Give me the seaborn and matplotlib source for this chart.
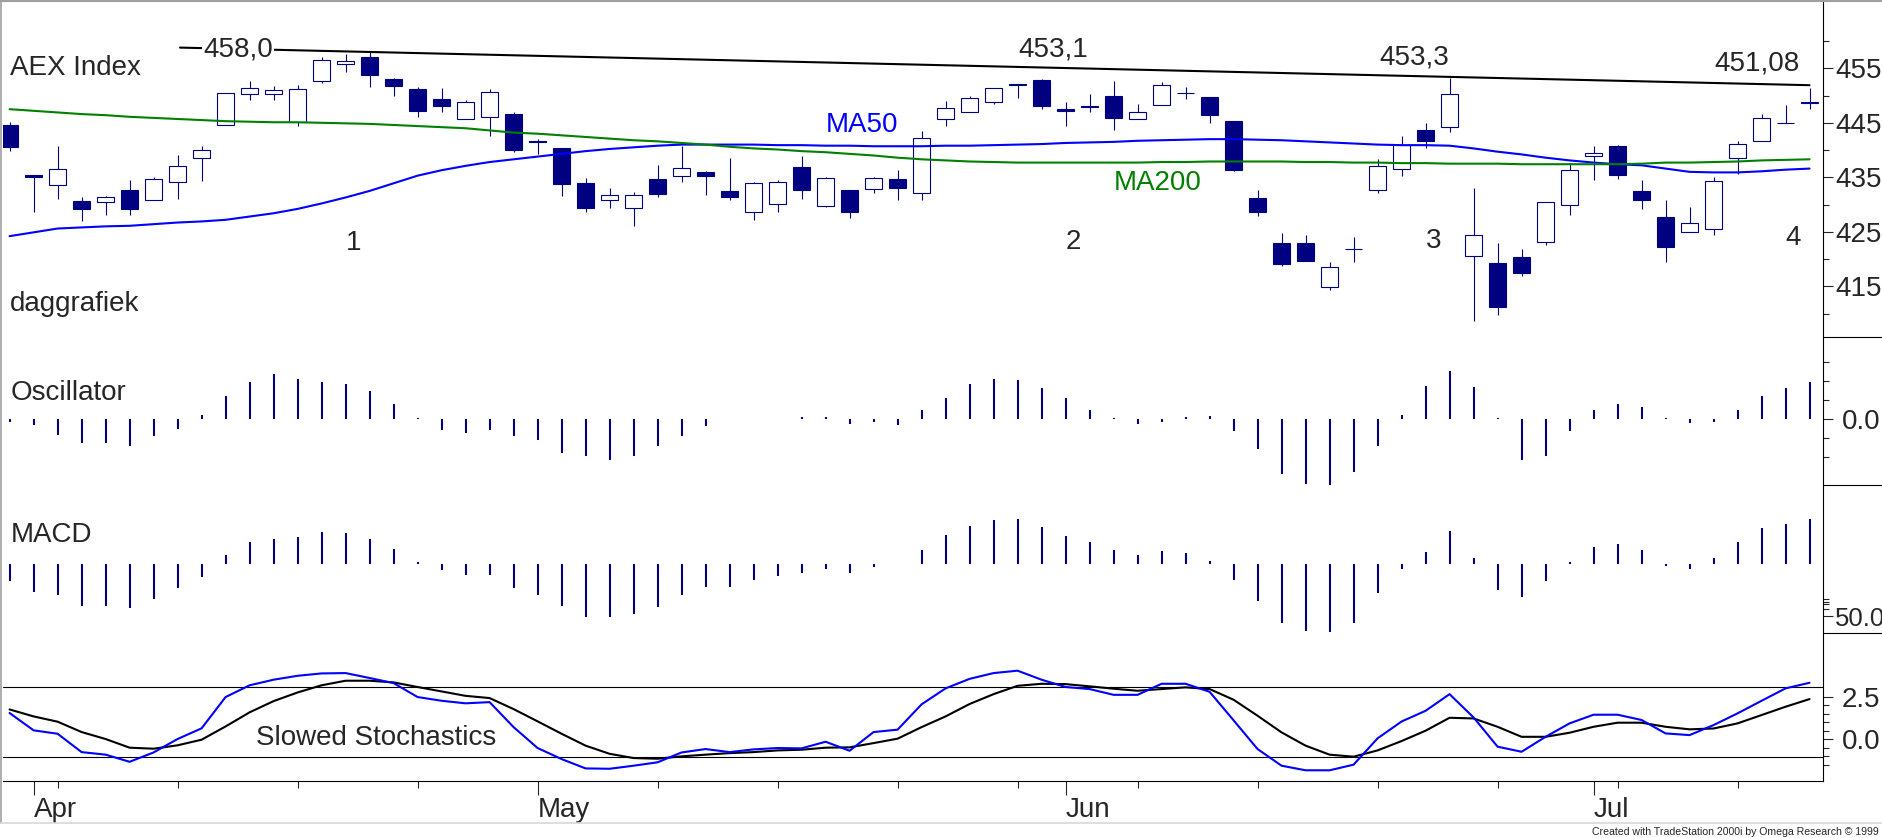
import matplotlib
matplotlib.use("Agg")
import matplotlib.pyplot as plt
from matplotlib.lines import Line2D
import numpy as np
import pandas as pd
import seaborn as sns

# ---- daily AEX bars (index 0 = first trading day on the chart) ----
opens = [444.6, 435.5, 433.6, 430.7, 430.5, 432.7, 430.8, 434.1, 438.5, 444.6,
         450.2, 450.2, 445.2, 452.6, 455.7, 457.0, 453.05, 451.2, 449.4, 445.7,
         446.0, 446.6, 441.6, 440.4, 434.0, 430.8, 429.3, 434.7, 435.2, 436.0,
         432.5, 428.6, 430.1, 436.9, 429.8, 432.7, 432.9, 434.7, 432.1, 445.7,
         446.9, 448.8, 451.9, 452.9, 447.6, 448.1, 449.9, 445.7, 448.3, 450.4,
         449.7, 445.3, 431.2, 422.95, 422.9, 414.9, 421.8, 432.6, 436.5, 443.6,
         444.2, 420.6, 419.3, 420.4, 423.1, 429.9, 438.9, 440.8, 432.5, 427.7,
         425.0, 425.6, 438.5, 441.6, 444.9, 448.65]
highs = [445.2, 435.5, 440.7, 431.4, 431.6, 434.5, 435.1, 439.0, 440.7, 450.4,
         452.7, 451.8, 452.0, 457.0, 457.6, 458.0, 453.2, 451.5, 451.3, 449.2,
         451.2, 447.0, 442.1, 440.4, 434.9, 433.0, 432.3, 437.3, 440.8, 436.1,
         438.6, 434.2, 434.5, 438.9, 435.0, 432.7, 435.1, 436.4, 443.5, 449.0,
         449.9, 451.3, 452.1, 453.1, 448.8, 450.3, 452.6, 448.5, 452.5, 451.6,
         449.7, 445.3, 432.6, 424.8, 424.4, 419.5, 424.05, 438.3, 442.6, 444.9,
         453.3, 433.0, 422.9, 421.85, 430.5, 437.6, 440.8, 441.0, 434.5, 430.9,
         429.6, 435.1, 441.6, 446.6, 448.3, 451.4]
lows = [439.9, 428.7, 431.1, 426.9, 428.0, 428.1, 430.8, 431.1, 434.4, 444.6,
        449.1, 449.1, 444.5, 452.3, 454.4, 451.6, 450.0, 446.0, 446.9, 445.7,
        442.5, 439.7, 439.3, 431.5, 428.6, 429.3, 426.0, 431.3, 434.2, 431.7,
        430.8, 427.2, 428.6, 431.1, 429.5, 427.5, 432.2, 430.8, 430.9, 444.5,
        446.9, 448.5, 449.6, 447.6, 444.5, 446.9, 443.6, 445.7, 448.2, 449.3,
        445.05, 436.1, 427.95, 418.7, 419.6, 414.3, 419.4, 432.2, 435.3, 440.35,
        443.4, 408.6, 409.7, 416.9, 422.5, 428.0, 434.5, 434.6, 429.2, 419.4,
        425.0, 424.5, 435.6, 441.6, 444.9, 447.5]
closes = [440.5, 435.0, 436.5, 429.1, 431.4, 429.1, 434.7, 437.1, 440.0, 450.4,
          451.3, 451.0, 451.2, 456.6, 456.3, 453.7, 451.8, 447.1, 448.0, 448.8,
          450.6, 440.1, 441.4, 433.7, 429.3, 431.7, 431.7, 431.9, 436.7, 435.2,
          431.3, 433.9, 434.1, 432.6, 434.9, 428.6, 434.8, 433.0, 442.2, 447.7,
          449.5, 451.3, 452.1, 448.1, 447.1, 447.9, 445.8, 446.9, 451.9, 450.5,
          446.5, 436.3, 428.6, 419.0, 419.6, 418.55, 421.9, 437.05, 440.9, 441.75,
          450.2, 424.4, 411.2, 417.45, 430.5, 436.3, 439.4, 435.5, 430.8, 422.3,
          426.6, 434.3, 441.2, 445.8, 445.05, 448.8]

ma50 = [424.2, 424.9, 425.6, 425.8, 426.0, 426.1, 426.4, 426.7, 426.9, 427.2,
        427.8, 428.4, 429.2, 430.2, 431.3, 432.5, 433.9, 435.3, 436.3, 437.1,
        437.8, 438.3, 438.8, 439.3, 439.8, 440.2, 440.5, 440.8, 441.0, 441.0,
        441.0, 441.0, 440.9, 440.9, 440.8, 440.8, 440.7, 440.7, 440.7, 440.8,
        440.8, 440.9, 441.0, 441.1, 441.3, 441.4, 441.5, 441.7, 441.8, 441.9,
        442.0, 442.0, 441.9, 441.8, 441.6, 441.4, 441.2, 441.0, 440.9, 440.9,
        440.8, 440.3, 439.7, 439.2, 438.6, 438.1, 437.7, 437.4, 437.2, 436.6,
        436.0, 435.9, 435.9, 436.1, 436.4, 436.6]
ma200 = [447.5, 447.2, 446.9, 446.6, 446.4, 446.1, 445.9, 445.7, 445.5, 445.3,
         445.2, 445.1, 445.1, 445.0, 444.9, 444.8, 444.6, 444.4, 444.2, 444.0,
         443.6, 443.2, 443.0, 442.7, 442.4, 442.1, 441.8, 441.6, 441.3, 441.0,
         440.6, 440.3, 440.1, 439.8, 439.6, 439.3, 439.0, 438.6, 438.3, 438.1,
         437.9, 437.8, 437.7, 437.7, 437.7, 437.7, 437.7, 437.7, 437.8, 437.8,
         437.9, 437.9, 437.9, 437.9, 437.8, 437.8, 437.7, 437.7, 437.6, 437.6,
         437.5, 437.5, 437.5, 437.4, 437.4, 437.4, 437.4, 437.4, 437.5, 437.7,
         437.7, 437.8, 437.9, 438.1, 438.2, 438.3]

osc = [-0.26, -0.66, -1.68, -2.53, -2.53, -2.84, -1.79, -1.05, 0.47, 2.42,
       3.89, 4.74, 4.21, 3.89, 3.68, 2.95, 1.58, 0.11, -1.16, -1.47,
       -1.16, -1.79, -2.21, -3.58, -3.89, -4.32, -3.89, -2.84, -1.79, -0.74,
       0.05, 0.05, 0.05, 0.21, 0.21, -0.47, -0.32, -0.63, 0.95, 2.21,
       3.68, 4.21, 4.11, 3.26, 2.21, 0.95, 0.16, -0.47, -0.32, 0.21,
       0.32, -1.26, -3.16, -5.79, -6.84, -6.95, -5.58, -2.84, 0.42, 3.47,
       5.05, 3.37, 0.11, -4.32, -3.89, -1.26, 0.95, 1.58, 1.26, 0.11,
       -0.42, -0.32, 0.95, 2.42, 3.26, 3.89]
macd = [-1.7, -2.8, -3.1, -4.2, -4.2, -4.4, -3.5, -2.4, -1.3, 0.9,
        2.2, 2.5, 2.7, 3.2, 3.1, 2.5, 1.5, 0.2, -0.6, -1.1,
        -1.1, -2.4, -3.1, -4.2, -5.3, -5.3, -5.0, -4.3, -3.1, -2.3,
        -2.3, -1.6, -1.2, -0.9, -0.5, -0.9, -0.25, 0.05, 1.4, 2.9,
        3.8, 4.4, 4.5, 3.7, 2.8, 2.2, 1.4, 0.9, 1.3, 1.1,
        0.3, -1.6, -3.7, -5.9, -6.7, -6.8, -5.9, -2.9, -0.5, 1.2,
        3.3, 0.6, -2.6, -3.3, -1.7, 0.2, 1.7, 2.0, 1.4, -0.2,
        -0.5, 0.6, 2.2, 3.6, 4.0, 4.5]

stoch_k = [1.55, 0.53, 0.33, -0.75, -0.9, -1.32, -0.77, 0.02, 0.65, 2.49,
           3.18, 3.51, 3.74, 3.88, 3.9, 3.61, 3.31, 2.49, 2.27, 2.12,
           2.19, 0.72, -0.51, -1.16, -1.71, -1.73, -1.55, -1.35, -0.77, -0.57,
           -0.75, -0.59, -0.51, -0.53, -0.14, -0.67, 0.43, 0.57, 2.06, 3.0,
           3.56, 3.9, 4.04, 3.51, 3.08, 2.96, 2.62, 2.62, 3.27, 3.27,
           2.8, 1.12, -0.57, -1.55, -1.82, -1.82, -1.49, 0.06, 1.05, 1.68,
           2.66, 1.29, -0.43, -0.73, 0.15, 0.94, 1.45, 1.45, 1.14, 0.35,
           0.25, 0.84, 1.53, 2.27, 3.0, 3.33]
stoch_d = [1.76, 1.35, 1.04, 0.43, 0.02, -0.49, -0.55, -0.35, -0.02, 0.76,
           1.59, 2.25, 2.76, 3.18, 3.45, 3.45, 3.35, 3.08, 2.82, 2.56,
           2.43, 1.78, 1.06, 0.33, -0.37, -0.85, -1.1, -1.14, -1.0, -0.9,
           -0.81, -0.75, -0.65, -0.61, -0.49, -0.47, -0.22, 0.04, 0.72, 1.35,
           2.08, 2.66, 3.15, 3.27, 3.25, 3.12, 2.98, 2.86, 2.96, 3.06,
           2.96, 2.33, 1.39, 0.41, -0.37, -0.9, -1.02, -0.65, -0.1, 0.51,
           1.27, 1.23, 0.74, 0.15, 0.15, 0.39, 0.74, 0.98, 0.98, 0.74,
           0.59, 0.64, 0.94, 1.43, 1.92, 2.37]
stoch_upper = 3.1
stoch_lower = -1.05

# declining top line and its peaks
trend_x = [7.1, 75]
trend_y = [458.8, 451.9]
peak_labels = ['458,0', '453,1', '453,3', '451,08']
wave_labels = ['1', '2', '3', '4']

month_pos = [1, 22, 44, 66]
month_labels = ['Apr', 'May', 'Jun', 'Jul']
week_pos = [2, 7, 12, 17, 27, 32, 37, 42, 47, 52, 57, 62, 67, 72]

df = pd.DataFrame({'bar': np.arange(len(opens)), 'open': opens, 'high': highs,
                   'low': lows, 'close': closes, 'ma50': ma50, 'ma200': ma200,
                   'osc': osc, 'macd': macd, 'k': stoch_k, 'd': stoch_d})

sns.set_style('white')
plt.rcParams['font.family'] = ['Liberation Sans', 'DejaVu Sans']

NAVY = '#000080'
W, H = 1883, 838
fig = plt.figure(figsize=(W / 100, H / 100), dpi=100)


def frame(top, bottom):
    return [3 / W, 1 - bottom / H, (1823 - 3) / W, (bottom - top) / H]


ax_p = fig.add_axes(frame(1, 337.3))
ax_o = fig.add_axes(frame(337.3, 485.3), sharex=ax_p)
ax_m = fig.add_axes(frame(485.3, 633.3), sharex=ax_p)
ax_s = fig.add_axes(frame(633.3, 781), sharex=ax_p)

# ---- candles ----
up = df['close'] >= df['open']
ax_p.vlines(df['bar'], df['low'], df['high'], color=NAVY, lw=0.8, zorder=2)
body_lo = np.minimum(df['open'], df['close'])
body_h = np.maximum((df['close'] - df['open']).abs(), 0.12)
ax_p.bar(df['bar'], body_h, bottom=body_lo, width=0.68,
         color=np.where(up, 'white', NAVY), edgecolor=NAVY, linewidth=0.8, zorder=3)

sns.lineplot(data=df, x='bar', y='ma50', ax=ax_p, color='#0000ff', lw=1.5, zorder=4)
sns.lineplot(data=df, x='bar', y='ma200', ax=ax_p, color='#008000', lw=1.5, zorder=4)
ax_p.plot(trend_x, trend_y, color='black', lw=1.5, zorder=4)

ax_p.set_ylim(405.64, 467.35)
fs = 20
ax_p.text(9.52, 458.4, peak_labels[0], fontsize=fs, ha='center', va='center', zorder=5,
          bbox=dict(facecolor='white', edgecolor='none', pad=0.5))
ax_p.text(43.47, 458.5, peak_labels[1], fontsize=fs, ha='center', va='center')
ax_p.text(58.52, 456.9, peak_labels[2], fontsize=fs, ha='center', va='center')
ax_p.text(72.8, 455.8, peak_labels[3], fontsize=fs, ha='center', va='center')
for xw, yw, lab in zip([14.33, 44.31, 59.33, 74.33], [422.9, 423.1, 423.3, 423.9], wave_labels):
    ax_p.text(xw, yw, lab, fontsize=fs, ha='center', va='center')
ax_p.text(34.0, 444.6, 'MA50', fontsize=fs, color='#0000ff', ha='left', va='center')
ax_p.text(46.0, 433.95, 'MA200', fontsize=fs, color='#008000', ha='left', va='center')
ax_p.text(0.004, 0.80, 'AEX Index', transform=ax_p.transAxes, fontsize=fs, va='center')
ax_p.text(0.004, 0.10, 'daggrafiek', transform=ax_p.transAxes, fontsize=fs, va='center')

# ---- oscillator & MACD histograms ----
ax_o.vlines(df['bar'], 0, df['osc'], color=NAVY, lw=1.5)
ax_o.set_ylim(-6.97, 8.63)
ax_o.text(0.004, 0.624, 'Oscillator', transform=ax_o.transAxes, fontsize=fs, va='center')

ax_m.vlines(df['bar'], 0, df['macd'], color=NAVY, lw=1.5)
ax_m.set_ylim(-6.9, 7.9)
ax_m.text(0.004, 0.664, 'MACD', transform=ax_m.transAxes, fontsize=fs, va='center')

# ---- slowed stochastics ----
ax_s.axhline(stoch_upper, color='black', lw=0.8, zorder=1)
ax_s.axhline(stoch_lower, color='black', lw=0.8, zorder=1)
sns.lineplot(data=df, x='bar', y='d', ax=ax_s, color='black', lw=1.5, zorder=3)
sns.lineplot(data=df, x='bar', y='k', ax=ax_s, color='#0000ff', lw=1.5, zorder=3)
ax_s.set_ylim(-2.45, 6.24)
ax_s.text(15.27, 0.08, 'Slowed Stochastics', fontsize=fs, ha='center', va='center')

# ---- axes styling ----
for ax in (ax_p, ax_o, ax_m, ax_s):
    ax.set_xlabel('')
    ax.set_ylabel('')
    for s in ('top', 'left', 'bottom'):
        ax.spines[s].set_visible(False)
    ax.spines['right'].set_color('black')
    ax.spines['right'].set_linewidth(0.8)
    ax.yaxis.tick_right()
    ax.tick_params(axis='y', which='major', direction='out', length=7.2, width=0.8,
                   labelsize=fs, pad=1.5, right=True, left=False)
    ax.tick_params(axis='y', which='minor', direction='out', length=4.3, width=0.8,
                   right=True, left=False)
    ax.tick_params(axis='x', which='both', bottom=False, labelbottom=False)

ax_p.set_yticks([415, 425, 435, 445, 455], ['415', '425', '435', '445', '455'])
ax_p.set_yticks([410, 420, 430, 440, 450, 460], minor=True)
ax_o.set_yticks([0], ['0.0'])
ax_o.set_yticks([-4, -2, 2, 4, 6], minor=True)
ax_o.tick_params(axis='y', which='major', pad=6.5)
ax_m.set_yticks([-5.2], ['50.0'])
ax_m.set_yticks([-3.5, -3.75, -4.0, -4.5], minor=True)
ax_m.tick_params(axis='y', which='major', pad=1.5, labelsize=18.5)
ax_s.set_yticks([0, 2.5], ['0.0', '2.5'])
ax_s.set_yticks([-1.5, -1, -0.5, 0.5, 1, 1.5, 2], minor=True)
ax_s.tick_params(axis='y', which='major', pad=6.5)

ax_s.spines['bottom'].set_visible(True)
ax_s.spines['bottom'].set_color('black')
ax_s.spines['bottom'].set_linewidth(0.8)
ax_s.set_xticks(month_pos, month_labels)
ax_s.set_xticks(week_pos, minor=True)
ax_s.tick_params(axis='x', which='major', bottom=True, labelbottom=True, direction='out',
                 length=10, width=0.8, labelsize=fs, pad=1.5)
ax_s.tick_params(axis='x', which='minor', bottom=True, direction='out', length=5, width=0.8)
for lab in ax_s.get_xticklabels():
    lab.set_horizontalalignment('left')
ax_s.set_xlim(-0.275, 75.56)

# panel separators in the scale column and window frame
for ypx in (337.3, 485.3, 633.3):
    fig.add_artist(Line2D([1823 / W, 1], [1 - ypx / H] * 2, color='black', lw=0.8))
fig.add_artist(Line2D([0, 1], [1 - 1 / H] * 2, color='#a0a0a0', lw=1.5))
fig.add_artist(Line2D([1 / W] * 2, [1 - 823 / H, 1], color='#a0a0a0', lw=1.2))
fig.add_artist(Line2D([0, 1], [1 - 823 / H] * 2, color='#d8d8d8', lw=1.2))
fig.text(1879 / W, 1 - 832 / H, 'Created with TradeStation 2000i by Omega Research \u00a9 1999',
         fontsize=7.6, ha='right', va='center')

fig.savefig('out.png', dpi=100)
